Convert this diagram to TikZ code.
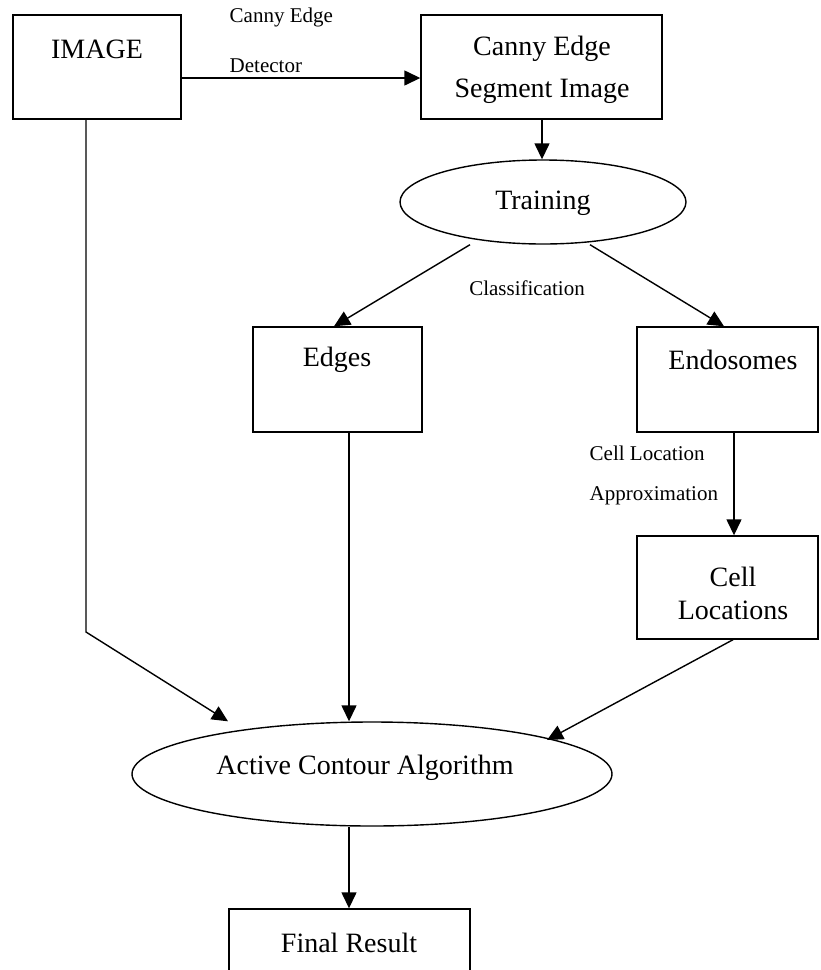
\documentclass[tikz,border=0pt]{standalone}
\usepackage{fontspec}
\setmainfont{Liberation Serif}
\usetikzlibrary{arrows.meta,shapes.geometric}
\begin{document}
\begin{tikzpicture}[x=1pt,y=-1pt,
  line width=1.4pt,
  box/.style={draw, rectangle, inner sep=0pt},
  oval/.style={draw, ellipse, inner sep=0pt},
  big/.style={font=\fontsize{28}{30}\selectfont, inner sep=0pt},
  small/.style={font=\fontsize{21}{23}\selectfont, inner sep=0pt, anchor=west},
  arr/.style={-{Triangle[length=16pt,width=15pt]}},
  plain/.style={-}]
\clip (0,0) rectangle (820,970);
\fill[white] (0,0) rectangle (820,970);

% nodes
\node[box, minimum width=168pt, minimum height=104pt] (img) at (97,67) {};
\node[big] (imgt) at (97,49) {IMAGE};

\node[box, minimum width=241pt, minimum height=104pt] (canny) at (541.5,67) {};
\node[big] (cannyt1) at (542,49) {Canny Edge};
\node[big] (cannyt2) at (542,91) {Segment Image};

\node[oval, minimum width=286pt, minimum height=84pt] (train) at (543,202) {};
\node[big] (traint) at (543,203) {Training};

\node[box, minimum width=169pt, minimum height=105pt] (edges) at (337.5,379.5) {};
\node[big] (edgest) at (337,360) {Edges};

\node[box, minimum width=181pt, minimum height=105pt] (endo) at (727.5,379.5) {};
\node[big] (endot) at (733,360) {Endosomes};

\node[box, minimum width=181pt, minimum height=103pt] (cell) at (727.5,587.5) {};
\node[big] (cellt1) at (733,577) {Cell};
\node[big] (cellt2) at (733,610) {Locations};

\node[oval, minimum width=480pt, minimum height=104pt] (active) at (372,774) {};
\node[big] (activet) at (365,768) {Active Contour Algorithm};

\node[box, minimum width=241pt, minimum height=120pt] (final) at (349.5,969) {};
\node[big] (finalt) at (349,943) {Final Result};

% labels
\node[small] (l1) at (229,17) {Canny Edge};
\node[small] (l2) at (229,66) {Detector};
\node[small, anchor=center] (l3) at (527,288) {Classification};
\node[small] (l4) at (589,453) {Cell Location};
\node[small] (l5) at (589,496) {Approximation};

% connectors
\draw[arr] ([yshift=-11pt]img.east) -- ([yshift=-11pt]canny.west);
\draw[arr] ([xshift=0.5pt]canny.south) -- ([xshift=0.5pt]canny.south |- train.north);
\draw[arr] ([xshift=-73pt]train.south) -- ([xshift=-3.5pt]edges.north);
\draw[arr] ([xshift=47pt]train.south) -- ([xshift=-3.5pt]endo.north);
\draw[arr] ([xshift=6.5pt]endo.south) -- ([xshift=6.5pt]cell.north);
\coordinate (bend) at (86,632);
\draw[arr] ([xshift=-11pt]img.south) -- (bend) -- ([xshift=-144pt]active.north);
\draw[arr] ([xshift=11.5pt]edges.south) -- ([xshift=11.5pt]edges.south |- active.north);
\draw[arr] ([xshift=5.5pt]cell.south) -- ([xshift=175pt,yshift=34pt]active.center);
\draw[arr] ([xshift=-23pt]active.south) -- ([xshift=-0.5pt]final.north);
\end{tikzpicture}
\end{document}
